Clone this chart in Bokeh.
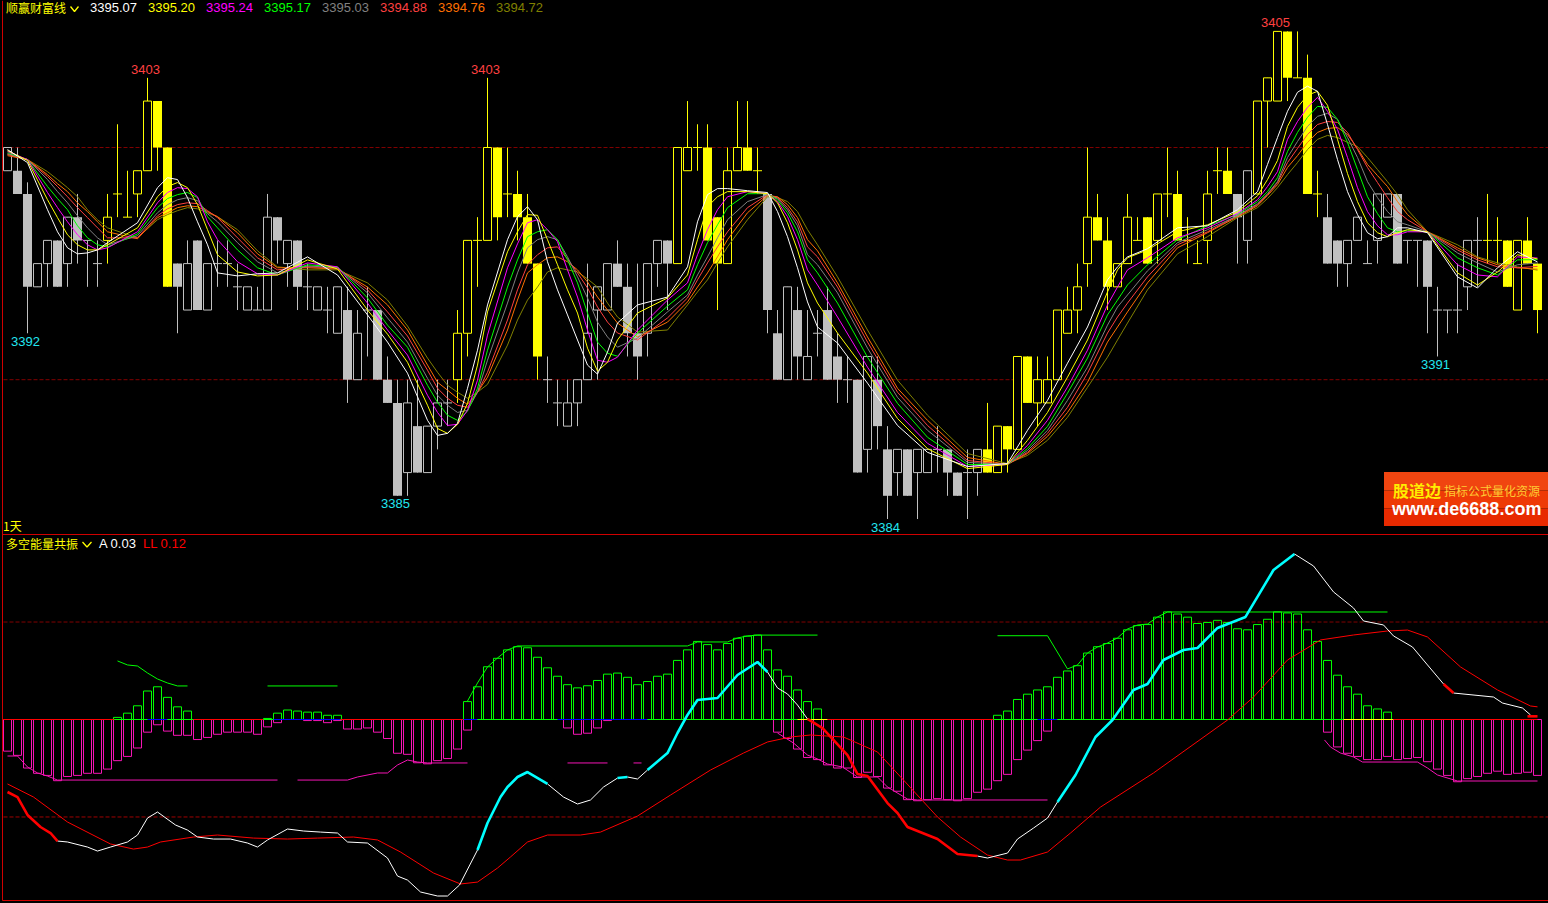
from bokeh.plotting import figure
from bokeh.models import Range1d, LinearAxis
from bokeh.embed import file_html
from bokeh.resources import INLINE
from bokeh.core.properties import value

# ---------- candles (integer quotes) ----------
opens = [3399,3399,3398,3394,3395,3396,3395,3397,3396,3395,3396,3398,3397,3398,3399,3402,3400,3395,3393,3396,3393,3395,3395,3394,3393,3393,3393,3397,3395,3396,3394,3393,3393,3392,3393,3390,3393,3393,3390,3389,3386,3388,3386,3388,3389,3390,3392,3396,3396,3400,3398,3398,3397,3395,3390,3389,3388,3389,3390,3393,3393,3395,3394,3392,3392,3395,3396,3395,3399,3400,3400,3397,3395,3399,3400,3399,3398,3392,3390,3393,3390,3392,3393,3391,3390,3390,3387,3390,3387,3386,3387,3386,3386,3387,3387,3386,3386,3386,3387,3386,3388,3387,3391,3389,3389,3390,3392,3393,3395,3397,3396,3394,3395,3396,3397,3396,3398,3398,3396,3395,3396,3399,3399,3398,3396,3398,3402,3402,3405,3403,3403,3398,3397,3396,3395,3396,3395,3396,3397,3398,3396,3396,3396,3393,3393,3393,3394,3396,3396,3396,3396,3393,3396,3395]
closes = [3400,3398,3394,3395,3396,3394,3397,3396,3396,3395,3397,3398,3397,3399,3402,3400,3394,3394,3395,3393,3395,3395,3395,3394,3394,3393,3397,3396,3396,3394,3394,3394,3393,3394,3390,3392,3393,3390,3389,3385,3389,3386,3388,3389,3389,3392,3396,3396,3400,3397,3398,3397,3395,3391,3390,3389,3389,3390,3392,3394,3395,3394,3392,3391,3395,3396,3395,3400,3400,3400,3396,3395,3399,3400,3399,3399,3393,3390,3394,3391,3391,3392,3390,3390,3390,3386,3391,3388,3385,3387,3385,3387,3387,3387,3386,3385,3386,3387,3386,3388,3387,3391,3389,3390,3390,3393,3393,3394,3397,3396,3394,3395,3397,3396,3395,3398,3398,3396,3396,3395,3398,3399,3398,3397,3399,3402,3403,3405,3403,3403,3398,3398,3395,3395,3396,3397,3395,3398,3398,3395,3396,3396,3394,3393,3393,3393,3396,3396,3396,3396,3394,3396,3395,3393]
highs = [3400,3400,3398.5,3395,3396,3396,3397,3398,3396,3396,3398,3401,3399,3399,3403,3402,3400,3395,3396,3396,3395,3396,3396,3395,3394,3394,3398,3397,3396,3396,3395,3394,3394,3394,3394,3393,3394,3393,3391,3390,3390,3390,3388,3390,3390,3393,3396,3397,3403,3400,3400,3399,3398,3395,3391,3390,3390,3390,3395,3394,3395,3396,3395,3395,3395,3396,3396,3400,3402,3401,3401,3397,3400,3402,3402,3400,3398,3393,3394,3394,3393,3393,3394,3392,3391,3390,3391,3391,3388,3387,3387,3387,3387,3388,3387,3386,3387,3387,3389,3388,3388,3391,3391,3391,3391,3393,3394,3395,3400,3398,3397,3395,3398,3397,3397,3398,3400,3399,3397,3396,3399,3400,3400,3398,3399,3402,3403,3405,3405,3405,3404,3399,3398,3396,3396,3397,3396,3398,3398,3398,3396,3396,3396,3394,3393,3395,3396,3397,3398,3397,3396,3396,3397,3395]
lows = [3399,3398,3392,3394,3394,3394,3394,3395,3394,3394,3395,3397,3397,3397,3399,3399,3394,3392,3393,3393,3393,3394,3394,3393,3393,3393,3393,3395,3394,3393,3393,3393,3392,3392,3389,3390,3391,3390,3389,3385,3385,3386,3386,3387,3388,3389,3391,3394,3396,3396,3397,3396,3395,3390,3389,3388,3388,3388,3390,3390,3393,3394,3391,3390,3391,3394,3393,3395,3399,3399,3396,3393,3395,3399,3399,3398,3392,3390,3390,3390,3390,3391,3390,3389,3389,3386,3386,3387,3384,3385,3385,3384,3386,3386,3385,3385,3384,3385,3386,3386,3386,3387,3389,3388,3389,3390,3392,3392,3394,3396,3393,3394,3395,3396,3395,3395,3397,3396,3395,3395,3395,3398,3398,3395,3395,3398,3400,3402,3402,3403,3398,3397,3395,3394,3394,3396,3395,3395,3397,3395,3395,3394,3392,3391,3392,3392,3393,3394,3395,3395,3394,3393,3395,3392]
yellow_runs = [(10,16),(45,53),(67,75),(98,122),(125,131),(148,153)]
label_high_bars = [14,48,127]
label_high_vals = [3403,3403,3405]
label_low_bars = [2,39,88,143]
label_low_vals = [3392,3385,3384,3391]

# ---------- eight moving averages, read at shared bars ----------
ma_bars = [0,2,4,6,8,10,13,15,16,17,18,19,20,21,23,25,27,30,33,36,38,40,42,44,46,48,50,52,53,54,55,57,59,61,63,66,68,70,72,76,78,80,83,86,89,92,96,100,104,108,111,114,117,120,123,125,127,128,130,132,134,136,138,140,142,145,147,149,151,153]
ma_white = [3399.91,3399.35,3397.32,3395.68,3395.46,3395.90,3396.76,3398.27,3398.70,3398.62,3397.84,3396.80,3395.81,3394.60,3394.47,3394.56,3394.60,3395.29,3394.51,3392.79,3391.62,3390.28,3388.25,3387.69,3389.63,3393.22,3396.03,3397.45,3396.89,3395.08,3393.87,3391.71,3390.24,3392.44,3393.22,3393.56,3394.86,3397.97,3398.23,3398.06,3396.16,3393.35,3391.58,3389.85,3388.03,3386.87,3386.26,3386.39,3389.11,3392.27,3394.86,3395.64,3396.54,3396.63,3397.32,3398.10,3400.43,3401.56,3402.64,3400.99,3398.10,3396.33,3396.16,3396.54,3396.33,3394.43,3393.95,3394.82,3395.51,3395.07]
ma_yellow = [3399.87,3399.44,3397.75,3396.24,3395.59,3395.81,3396.54,3397.88,3398.32,3398.49,3398.27,3397.54,3396.46,3395.38,3394.64,3394.47,3394.51,3395.16,3394.77,3393.00,3391.96,3390.75,3388.90,3387.69,3388.98,3392.92,3395.51,3397.11,3397.08,3396.03,3394.95,3392.87,3390.37,3391.71,3392.87,3393.52,3394.51,3397.45,3398.10,3398.01,3396.76,3394.17,3392.01,3390.28,3388.33,3387.03,3386.17,3386.35,3388.59,3391.71,3394.73,3395.59,3396.37,3396.67,3397.23,3397.92,3399.44,3400.91,3402.25,3401.82,3398.88,3396.76,3396.16,3396.46,3396.37,3394.60,3394.08,3394.64,3395.38,3395.20]
ma_magenta = [3399.83,3399.48,3398.06,3396.80,3395.81,3395.68,3396.37,3397.62,3398.06,3398.27,3398.23,3397.88,3396.80,3396.03,3395.08,3394.56,3394.51,3395.03,3394.86,3393.30,3392.14,3391.06,3389.33,3388.03,3388.68,3391.92,3394.82,3396.76,3396.89,3396.46,3395.94,3393.56,3390.84,3390.97,3392.14,3393.43,3394.17,3396.46,3397.88,3398.01,3397.02,3394.73,3392.70,3390.54,3388.59,3387.26,3386.26,3386.35,3388.25,3391.27,3393.99,3395.25,3396.11,3396.54,3397.15,3397.75,3398.96,3400.35,3401.73,3401.56,3399.57,3397.24,3396.24,3396.37,3396.37,3394.95,3394.51,3394.43,3395.29,3395.24]
ma_lime = [3399.78,3399.48,3398.32,3397.32,3396.11,3395.72,3396.28,3397.41,3397.80,3397.97,3398.06,3397.84,3397.02,3396.54,3395.59,3394.82,3394.51,3394.95,3394.86,3393.52,3392.35,3391.40,3389.76,3388.47,3388.64,3391.27,3393.99,3396.16,3396.37,3396.46,3396.03,3394.17,3391.62,3391.01,3392.01,3393.17,3393.87,3395.90,3397.41,3398.01,3397.19,3395.16,3393.30,3390.97,3388.98,3387.52,3386.35,3386.35,3387.99,3390.93,3393.43,3394.95,3396.03,3396.63,3397.11,3397.67,3398.70,3399.83,3401.30,3401.73,3400.22,3397.88,3396.54,3396.41,3396.37,3395.25,3394.82,3394.51,3395.16,3395.17]
ma_gray = [3399.74,3399.48,3398.62,3397.62,3396.54,3395.81,3396.20,3397.19,3397.54,3397.75,3397.84,3397.71,3397.15,3396.80,3395.90,3395.08,3394.60,3394.90,3394.82,3393.74,3392.66,3391.62,3390.06,3388.90,3388.68,3390.84,3393.30,3395.68,3396.03,3396.16,3396.03,3394.43,3392.48,3391.40,3391.79,3392.92,3393.65,3395.29,3396.89,3397.97,3397.32,3395.38,3393.74,3391.36,3389.24,3387.82,3386.44,3386.35,3387.82,3390.54,3393.13,3394.69,3395.90,3396.46,3397.06,3397.58,3398.53,3399.57,3400.91,3401.47,3400.43,3398.53,3397.24,3396.67,3396.37,3395.46,3395.03,3394.64,3394.95,3395.03]
ma_red = [3399.70,3399.48,3398.75,3397.88,3396.98,3396.11,3396.11,3397.06,3397.36,3397.54,3397.62,3397.58,3397.28,3396.98,3396.11,3395.25,3394.73,3394.86,3394.82,3393.87,3392.92,3391.88,3390.41,3389.20,3388.81,3390.32,3392.57,3394.95,3395.38,3395.68,3395.72,3394.60,3393.13,3392.01,3391.71,3392.66,3393.52,3395.03,3396.37,3397.97,3397.41,3395.72,3393.99,3391.62,3389.46,3388.03,3386.52,3386.35,3387.69,3390.28,3392.70,3394.43,3395.81,3396.37,3397.06,3397.54,3398.49,3399.35,3400.56,3401.12,3400.65,3399.14,3397.84,3396.89,3396.37,3395.59,3395.16,3394.86,3394.82,3394.88]
ma_orange = [3399.65,3399.48,3398.83,3398.10,3397.24,3396.37,3396.07,3396.98,3397.19,3397.41,3397.49,3397.45,3397.24,3397.02,3396.33,3395.42,3394.82,3394.82,3394.77,3393.99,3393.22,3392.14,3390.63,3389.55,3388.94,3390.11,3392.14,3394.60,3394.95,3395.25,3395.29,3394.73,3393.56,3392.44,3391.84,3392.48,3393.35,3394.60,3396.03,3397.93,3397.54,3396.03,3394.17,3391.84,3389.63,3388.25,3386.65,3386.35,3387.56,3389.89,3392.27,3394.17,3395.68,3396.33,3397.02,3397.49,3398.40,3399.14,3400.22,3400.82,3400.56,3399.27,3398.32,3397.11,3396.37,3395.68,3395.25,3394.95,3394.82,3394.76]
ma_olive = [3399.70,3399.48,3398.96,3398.27,3397.32,3396.54,3396.11,3396.89,3397.11,3397.28,3397.41,3397.36,3397.19,3397.02,3396.46,3395.55,3394.86,3394.73,3394.73,3394.17,3393.43,3392.31,3390.93,3389.76,3389.20,3389.80,3391.49,3393.43,3393.99,3394.64,3394.82,3394.64,3393.99,3392.70,3392.05,3392.14,3393.22,3394.30,3395.72,3397.88,3397.67,3396.46,3394.43,3392.14,3389.98,3388.47,3386.82,3386.39,3387.39,3389.67,3391.71,3393.87,3395.42,3396.16,3396.98,3397.41,3398.27,3398.83,3399.91,3400.52,3400.22,3399.57,3398.53,3397.32,3396.37,3395.81,3395.29,3395.03,3394.86,3394.72]
ma_labels = ["3395.07","3395.20","3395.24","3395.17","3395.03","3394.88","3394.76","3394.72"]

# further readings of the same lines, at bars where the curves bend
more_bars = [5,7,9,43,45,47,51,56,58,60,69,71,74,77,79,81,102,106,110,112,126,129,131,133,135,137,139]
more_white = [3396.37,3395.42,3395.59,3387.60,3388.12,3391.27,3397.02,3392.79,3390.63,3391.19,3396.80,3398.23,3398.14,3397.24,3394.82,3392.27,3387.82,3390.71,3394.30,3395.29,3399.27,3402.38,3402.42,3399.48,3397.11,3396.07,3396.54]
more_yellow = [3396.98,3395.81,3395.59,3387.90,3388.08,3390.63,3396.37,3393.87,3391.36,3390.75,3396.03,3397.88,3398.10,3397.62,3395.59,3393.30,3387.39,3390.11,3393.78,3395.25,3398.62,3401.73,3402.42,3400.35,3397.67,3396.33,3396.33]
more_magenta = [3397.41,3396.24,3395.59,3388.59,3388.08,3389.98,3395.85,3394.73,3392.14,3390.75,3395.38,3397.32,3398.10,3397.67,3396.03,3394.08,3387.17,3389.68,3393.22,3394.73,3398.32,3401.12,3402.16,3400.78,3398.27,3396.63,3396.24]
more_lime = [3397.80,3396.63,3395.81,3389.03,3388.25,3389.63,3395.16,3395.16,3392.87,3391.14,3394.95,3396.67,3398.01,3397.75,3396.37,3394.60,3387.04,3389.42,3392.79,3394.08,3398.10,3400.65,3401.77,3401.21,3399.05,3397.15,3396.37]
more_gray = [3398.10,3397.06,3396.11,3389.33,3388.59,3389.46,3394.60,3395.29,3393.52,3391.84,3394.51,3396.11,3397.67,3397.80,3396.63,3394.95,3386.95,3389.11,3392.35,3393.65,3398.01,3400.26,3401.34,3401.21,3399.57,3397.84,3396.80]
more_red = [3398.32,3397.41,3396.54,3389.63,3388.90,3389.46,3393.87,3395.20,3393.95,3392.48,3394.30,3395.72,3397.41,3397.84,3396.80,3395.29,3386.87,3388.81,3392.01,3393.30,3397.97,3399.96,3400.99,3401.08,3399.91,3398.49,3397.24]
more_orange = [3398.44,3397.62,3396.80,3389.89,3389.20,3389.46,3393.43,3395.08,3394.21,3393.00,3393.99,3395.29,3397.19,3397.88,3396.98,3395.55,3386.82,3388.59,3391.62,3392.92,3397.93,3399.65,3400.65,3400.86,3399.96,3398.79,3397.67]
more_olive = [3398.62,3397.88,3396.89,3390.32,3389.46,3389.46,3392.57,3394.73,3394.34,3393.30,3393.78,3395.03,3396.89,3397.84,3397.24,3395.81,3386.74,3388.38,3390.97,3392.44,3397.80,3399.35,3400.35,3400.43,3400.04,3399.05,3397.97]

# ---------- lower panel: histogram ----------
hist_neg = [.30,.34,.46,.51,.53,.58,.54,.53,.51,.51,.47,.39,.35,.27,.12,.05,.11,.15,.15,.19,.17,.14,.12,.12,.12,.14,.07,.03,0,0,.01,.01,.03,.01,.09,.09,.08,.12,.18,.32,.33,.41,.42,.39,.37,.28,.10,0,0,0,0,0,0,0,0,0,.08,.14,.13,.08,.01,0,0,0,0,0,0,0,0,0,0,0,0,0,0,0,0,.12,.18,.28,.36,.38,.43,.46,.46,.55,.50,.54,.65,.68,.76,.77,.76,.75,.76,.77,.75,.69,.66,.58,.52,.38,.29,.20,.11,0,0,0,0,0,0,0,0,0,0,0,0,0,0,0,0,0,0,0,0,0,0,0,0,0,0,0,.12,.26,.32,.35,.38,.38,.35,.38,.37,.36,.40,.47,.53,.59,.56,.54,.51,.49,.52,.51,.50,.53]
hist_pos = [0,0,0,0,0,0,0,0,0,0,0,.02,.06,.13,.27,.31,.21,.12,.08,0,0,0,0,0,0,0,.01,.06,.09,.08,.07,.07,.04,.04,0,0,0,0,0,0,0,0,0,0,0,0,.17,.31,.50,.58,.66,.69,.68,.59,.49,.41,.33,.30,.32,.37,.43,.44,.40,.33,.36,.41,.43,.56,.66,.74,.71,.66,.72,.77,.79,.80,.66,.47,.41,.28,.17,.10,0,0,0,0,0,0,0,0,0,0,0,0,0,0,0,0,0,.04,.08,.19,.24,.28,.31,.40,.46,.51,.63,.69,.72,.77,.85,.89,.90,.97,1.02,1.00,.97,.91,.92,.94,.92,.86,.85,.90,.95,1.02,1.01,1.00,.85,.74,.56,.42,.31,.24,.13,.10,.07,0,0,0,0,0,0,0,0,0,0,0,0,0,0,0]

# zero-line colour runs (bar from, bar to, colour)
zero_runs = [(-0.45,10.7,"#ff0000"),(10.7,14,"#00ff00"),(14,16,"#0000ff"),(16,18.6,"#00ff00"),(18.6,25.6,"#ff0000"),(25.6,26.6,"#00ff00"),(26.6,33.3,"#0000ff"),(33.3,45.6,"#ff0000"),(45.6,47,"#0000ff"),(47,55,"#00ff00"),(55,64,"#0000ff"),(64,79,"#00ff00"),(79,82,"#ffff00"),(82,98.6,"#ff0000"),(98.6,103,"#00ff00"),(103,105,"#0000ff"),(105,133.6,"#00ff00"),(133.6,138.6,"#ffff00"),(138.6,153,"#ff0000")]

# ---------- lower panel: envelopes ----------
up1_x = [11,12,13,14,15,16,17,18]
up1_v = [.555,.517,.507,.441,.384,.346,.318,.318]
up2_x = [26,33]
up2_v = [.318,.318]
up3_x = [46,47,48,49,50,51,68,69,72,73,74,75,81]
up3_v = [.175,.346,.498,.583,.659,.697,.697,.735,.735,.773,.792,.80,.80]
up4_x = [99,104,106,107,108,109,110,111,112,113,114,115,116,138]
up4_v = [.794,.794,.479,.517,.631,.687,.725,.773,.858,.896,.905,.972,1.019,1.019]
dn1_x = [0,1,2,3,4,5,27]
dn1_v = [-.346,-.346,-.450,-.507,-.536,-.574,-.574]
dn2_x = [29,34,35,37,38,39,40,41,42,46]
dn2_v = [-.574,-.574,-.545,-.507,-.507,-.431,-.384,-.403,-.412,-.412]
dn3_x = [56,60]
dn3_v = [-.412,-.412]
dn4_x = [62.6,63.4]
dn4_v = [-.412,-.412]
dn5_x = [77,78.6,80,81,82,83.5,85,87,88,90,91,104]
dn5_v = [-.128,-.223,-.337,-.374,-.422,-.450,-.545,-.545,-.640,-.754,-.763,-.763]
dn6_x = [131.7,132.3,133.3,134.6,135.5,141,142,143,145,153]
dn6_v = [-.194,-.261,-.318,-.355,-.403,-.403,-.460,-.526,-.583,-.583]

# ---------- lower panel: LL ----------
ll_x = [0,2.6,6,10.3,12.6,14,15.3,18.6,21,24.6,28,31,34.6,37,39.3,42.6,45.3,47,49,50.3,52,54,57.3,59.3,63,66.3,70.3,73.6,76,78.3,80.3,83.6,87,89.6,93,95.3,98,100,101.3,104,106.3,109.3,114.6,122,124.6,128,131.3,134.6,138,140,142,145.3,149,152.3,153]
ll_v = [-.611,-.735,-.972,-1.180,-1.228,-1.209,-1.161,-1.114,-1.095,-1.124,-1.133,-1.124,-1.114,-1.142,-1.256,-1.455,-1.559,-1.541,-1.408,-1.303,-1.161,-1.095,-1.095,-1.067,-.915,-.716,-.479,-.318,-.213,-.166,-.147,-.166,-.308,-.574,-.924,-1.114,-1.285,-1.332,-1.332,-1.256,-1.076,-.830,-.507,-.005,.213,.564,.754,.801,.839,.848,.782,.498,.280,.128,.12]

# ---------- lower panel: A, by stretches ----------
a_red1_x = [0,1,2,3.3,4.3,5]
a_red1_v = [-.687,-.735,-.905,-1.019,-1.076,-1.152]
a_white1_x = [5,6,8,9,10.3,12,13,14,15,16.8,18,19,20.6,22.3,24,25,26,28,29.6,31.3,33,34,36,38,39,40,41.3,43,44,45.2,47]
a_white1_v = [-1.152,-1.161,-1.209,-1.247,-1.209,-1.161,-1.095,-.934,-.877,-1.000,-1.048,-1.114,-1.133,-1.133,-1.171,-1.209,-1.142,-1.038,-1.057,-1.067,-1.076,-1.161,-1.171,-1.313,-1.484,-1.522,-1.635,-1.673,-1.673,-1.569,-1.237]
a_cyan1_x = [47,48,49.3,50,51,52,54]
a_cyan1_v = [-1.237,-.981,-.735,-.640,-.545,-.498,-.611]
a_white2_x = [54,55.6,57,58.3,59.6,61]
a_white2_v = [-.611,-.735,-.801,-.763,-.640,-.555]
a_cyan2_x = [61,62]
a_cyan2_v = [-.555,-.545]
a_white3_x = [62,63,64]
a_white3_v = [-.545,-.564,-.479]
a_cyan3_x = [64,66,67,68,69,71,73,75,76]
a_cyan3_v = [-.479,-.318,-.128,.043,.185,.204,.422,.545,.450]
a_white4_x = [76,77,78,79,80]
a_white4_v = [.450,.299,.242,.137,.005]
a_red2_x = [80,81.5,84,85,86,88,89,90,93,95,97]
a_red2_v = [.005,-.081,-.337,-.517,-.536,-.792,-.886,-1.019,-1.133,-1.275,-1.294]
a_white5_x = [97,98,100,101,102.6,104,105]
a_white5_v = [-1.294,-1.313,-1.266,-1.133,-1.029,-.934,-.782]
a_cyan4_x = [105,106.8,108.8,110.5,112.6,114,115.6,117.6,119,121,123.8,126.6,128.7]
a_cyan4_v = [-.782,-.526,-.166,-.005,.280,.337,.564,.659,.678,.868,.972,1.417,1.569]
a_white6_x = [128.7,130.6,132.6,134.6,135.6,137.6,138.6,140.5,142,143.6]
a_white6_v = [1.569,1.455,1.209,1.057,.934,.896,.792,.687,.517,.337]
a_red3_x = [143.6,144.6]
a_red3_v = [.337,.251]
a_white7_x = [144.6,148.6,149.5,151.5,152.3]
a_white7_v = [.251,.213,.156,.109,.043]
a_red4_x = [152,153]
a_red4_v = [.03,.03]

YEL, GRY, PINK = "#ffff00", "#c0c0c0", "#f514b4"
MA_COL = ["#ffffff", "#ffff00", "#ff00ff", "#00ff00", "#808080", "#ff4040", "#ff7000", "#808000"]

# reference pixels to data units (page furniture only)
X = lambda px: (px - 7) / 10.0
Y = lambda py: 3400 - (py - 147) / 23.22
I = lambda py: (719 - py) / 105.5

p = figure(width=1548, height=903, output_backend="svg", toolbar_location=None,
           x_range=Range1d(X(0), X(1548)), y_range=Range1d(Y(903), Y(0)),
           x_axis_location=None, y_axis_location=None, min_border=0,
           background_fill_color="#000000", border_fill_color="#000000", outline_line_color=None)
p.grid.visible = False
p.extra_y_ranges = {"ind": Range1d(I(903), I(0))}

# frame and dashed levels
for px0, py0, px1, py1 in [(2, 0, 2, 900), (2, 534, 1548, 534), (2, 900, 1548, 900)]:
    p.line([X(px0), X(px1)], [Y(py0), Y(py1)], line_color="#d00000", line_width=1)
for lv in [3400, 3390]:
    p.line([X(3), X(1548)], [lv, lv], line_color="#800000", line_width=1, line_dash="4 2")
p.line([X(3), X(1548)], [.924, .924], line_color="#800000", line_width=1, line_dash="4 2", y_range_name="ind")
p.line([X(3), X(1548)], [-.924, -.924], line_color="#a00000", line_width=1, line_dash="4 2", y_range_name="ind")

# candles
bars = list(range(len(opens)))
is_yel = [any(a <= i <= b for a, b in yellow_runs) for i in bars]
cols = [YEL if y else GRY for y in is_yel]
p.segment(bars, highs, bars, lows, line_color=cols, line_width=1)
up = [i for i in bars if closes[i] > opens[i]]
dn = [i for i in bars if closes[i] < opens[i]]
dj = [i for i in bars if closes[i] == opens[i]]
p.vbar([i for i in up], top=[closes[i] for i in up], bottom=[opens[i] for i in up], width=0.8,
       fill_color="#000000", line_color=[cols[i] for i in up], line_width=1)
p.vbar([i for i in dn], top=[opens[i] for i in dn], bottom=[closes[i] for i in dn], width=0.9,
       fill_color=[cols[i] for i in dn], line_color=None)
p.segment([i - .45 for i in dj], [opens[i] for i in dj], [i + .45 for i in dj], [opens[i] for i in dj],
          line_color=[cols[i] for i in dj], line_width=1)

# moving averages (slowest first): both sets of readings, in bar order
ma_series = [(ma_white, more_white), (ma_yellow, more_yellow), (ma_magenta, more_magenta), (ma_lime, more_lime),
             (ma_gray, more_gray), (ma_red, more_red), (ma_orange, more_orange), (ma_olive, more_olive)]
for (vals, extra), c in reversed(list(zip(ma_series, MA_COL))):
    pts = sorted(zip(ma_bars + more_bars, vals + extra))
    p.line([a for a, _ in pts], [b for _, b in pts], line_color=c, line_width=1)

# histogram
nb = [i for i in bars if hist_neg[i] > 0]
pb = [i for i in bars if hist_pos[i] > 0]
p.vbar(nb, top=0, bottom=[-hist_neg[i] for i in nb], width=0.8, fill_alpha=0, line_color=PINK,
       line_width=1, y_range_name="ind")
p.vbar(pb, top=[hist_pos[i] for i in pb], bottom=0, width=0.8, fill_alpha=0, line_color="#00ff00",
       line_width=1, y_range_name="ind")
for a, b, c in zero_runs:
    p.line([a, b], [0, 0], line_color=c, line_width=1, y_range_name="ind")

for xs, vs in [(up1_x, up1_v), (up2_x, up2_v), (up3_x, up3_v), (up4_x, up4_v)]:
    p.line(xs, vs, line_color="#00ff00", line_width=1, y_range_name="ind")
for xs, vs in [(dn1_x, dn1_v), (dn2_x, dn2_v), (dn3_x, dn3_v), (dn4_x, dn4_v), (dn5_x, dn5_v), (dn6_x, dn6_v)]:
    p.line(xs, vs, line_color=PINK, line_width=1, y_range_name="ind")

p.line(ll_x, ll_v, line_color="#ff0000", line_width=1, y_range_name="ind")
for xs, vs in [(a_white1_x, a_white1_v), (a_white2_x, a_white2_v), (a_white3_x, a_white3_v), (a_white4_x, a_white4_v),
               (a_white5_x, a_white5_v), (a_white6_x, a_white6_v), (a_white7_x, a_white7_v)]:
    p.line(xs, vs, line_color="#ffffff", line_width=1, y_range_name="ind")
for xs, vs in [(a_cyan1_x, a_cyan1_v), (a_cyan2_x, a_cyan2_v), (a_cyan3_x, a_cyan3_v), (a_cyan4_x, a_cyan4_v)]:
    p.line(xs, vs, line_color="#00ffff", line_width=2.6, y_range_name="ind")
for xs, vs in [(a_red1_x, a_red1_v), (a_red2_x, a_red2_v), (a_red3_x, a_red3_v), (a_red4_x, a_red4_v)]:
    p.line(xs, vs, line_color="#ff0000", line_width=2.6, y_range_name="ind")

# watermark
for top, bot, col in [(471.5, 490, "#f04510"), (490, 508, "#ee3a06"), (508, 525.5, "#e82a00")]:
    p.quad(left=X(1383.5), right=X(1548), top=Y(top), bottom=Y(bot), fill_color=col, line_color=None)


def txt(px, py, s, col, size="13px", font="Liberation Sans", style="normal", align="left"):
    p.text([X(px)], [Y(py)], text=[s], text_color=col, text_font=value(font), text_font_size=size,
           text_font_style=style, text_align=align, text_baseline="middle")


def chevron(px0, px1, py0, py1):
    p.line([X(px0), X((px0 + px1) / 2), X(px1)], [Y(py0), Y(py1), Y(py0)], line_color=YEL, line_width=1.3)


CJK = "Noto Sans CJK SC"
txt(5.5, 6.5, "顺赢财富线", YEL, "12px", CJK)
chevron(70, 78, 6, 11)
for px, s, c in zip([90, 148, 206, 264, 322, 380, 438, 496], ma_labels, MA_COL):
    txt(px - .5, 6.5, s, c)
txt(2.5, 524.5, "1天", YEL, "12px", CJK)
txt(5.5, 542.5, "多空能量共振", YEL, "12px", CJK)
chevron(82, 91, 541.5, 546.5)
txt(98.5, 542.5, "A 0.03", "#ffffff")
txt(142.5, 542.5, "LL 0.12", "#ff0000")
txt(1392.5, 489.5, "股道边", "#ffee00", "16px", CJK, "bold")
txt(1443.5, 489.5, "指标公式量化资源", "#ffcc33", "12px", CJK)
txt(1391.5, 508.5, "www.de6688.com", "#ffffff", "18px", "Liberation Sans", "bold")

p.text(label_high_bars, label_high_vals, text=[str(v) for v in label_high_vals], text_color="#ff4040",
       text_font=value("Liberation Sans"), text_font_size="13px", text_align="center", text_baseline="middle",
       x_offset=-2, y_offset=-8.5)
p.text(label_low_bars, label_low_vals, text=[str(v) for v in label_low_vals], text_color="#22e6f0",
       text_font=value("Liberation Sans"), text_font_size="13px", text_align="center", text_baseline="middle",
       x_offset=-2, y_offset=8)

html = file_html(p, INLINE)
html = html.replace("</head>", "<style>html,body{background:#000}</style></head>", 1)
open("out.html", "w", encoding="utf-8").write(html)
